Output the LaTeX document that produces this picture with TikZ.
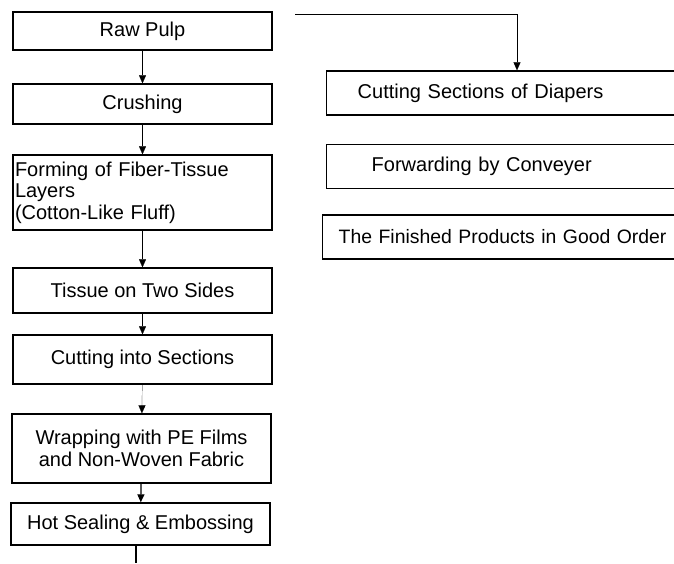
\documentclass[tikz,border=0pt]{standalone}
\usepackage{fontspec}
\setmainfont{Liberation Sans}
\usetikzlibrary{arrows.meta}

\begin{document}
\begin{tikzpicture}[x=0.5pt, y=-0.5pt,
every node/.style={%
    inner sep=1pt, font=\fontsize{10}{10.8}\selectfont
    },
stage/.style={draw, line width=0.7pt, minimum width=129.5pt, align=center},
order/.style={draw, line width=0.7pt, anchor=west, text width=175pt, align=left, minimum height=22pt},
flow/.style={line width=0.1pt, -{Triangle[length=4pt,width=3.5pt]}}
]
\useasboundingbox (0,0) rectangle (674,563);

% left column
\node (raw) [stage, minimum height=19pt] at (142.5,31) {Raw Pulp};
\node (crush) [stage, minimum height=20pt] at (142.5,104) {Crushing};
\node (form) [stage, minimum height=37.5pt, text width=127.5pt, align=left] at (142.5,192.5)
    {Forming of Fiber-Tissue\\Layers\\(Cotton-Like Fluff)};
\node (tissue) [stage, minimum height=22.5pt] at (142.5,290.5) {Tissue on Two Sides};
\node (cut) [stage, minimum height=24.5pt] at (142.5,359.5) {Cutting into Sections};
\node (wrap) [stage, minimum height=34.5pt] at (141.5,448.5) {Wrapping with PE Films\\and Non-Woven Fabric};
\node (hot) [stage, minimum height=21pt] at (140.5,524) {Hot Sealing \& Embossing};

% right column
\node (cutsec) [order, inner xsep=15.5pt] at (326,93) {Cutting Sections of Diapers};
\node (fwd) [order, inner xsep=22.5pt] at (326,166.5) {Forwarding by Conveyer};
\node (fin) [order, inner xsep=8pt, font=\fontsize{9.7}{10.8}\selectfont] at (322,237) {The Finished Products in Good Order};

\coordinate (tail) at (136,563);
\coordinate (back) at (295,14);
\coordinate (drop) at (517,14);

\foreach \i/\j in {
                  raw/crush, crush/form,%
                  form/tissue, tissue/cut,%
                  cut/wrap%
            }
    \draw [flow] (\i) -- (\j);

\draw [flow, line width=0.6pt] (wrap) -- (hot);
\draw [line width=0.6pt] (hot.south -| tail) -- (tail);
\draw [line width=0.5pt] (back) -- (drop);
\draw [flow] (drop) -- (drop |- cutsec.north);

\end{tikzpicture}
\end{document}
